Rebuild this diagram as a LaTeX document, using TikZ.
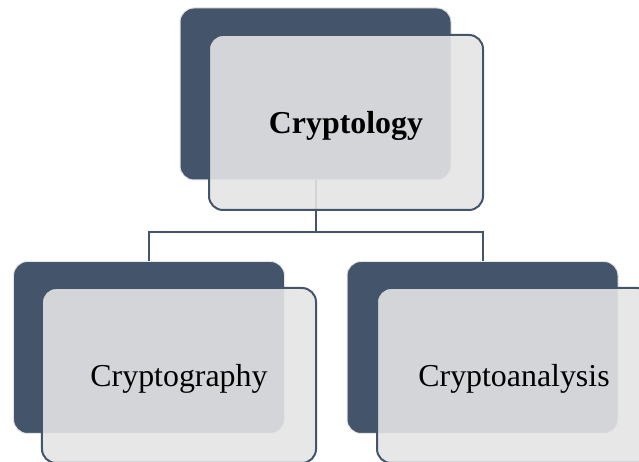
\documentclass[tikz,border=0pt]{standalone}
\usepackage{fontspec}
\setmainfont{Liberation Serif}
\definecolor{slate}{HTML}{44546A}
\definecolor{paper}{HTML}{E4E4E4}

\begin{document}
\begin{tikzpicture}[x=1bp,y=1bp,
	backbox/.style={draw=black!10, line width=1bp, fill=slate, rounded corners=14bp,
		minimum width=271bp, minimum height=172bp, inner sep=0pt},
	frontbox/.style={draw=slate, line width=2bp, fill=paper, fill opacity=0.9, text opacity=1,
		rounded corners=14bp, minimum width=274bp, minimum height=175bp, inner sep=0pt,
		text depth=0pt, font=\fontsize{32}{38}\selectfont},
	link/.style={draw=slate, line width=2bp}]
	 \useasboundingbox (0,0) rectangle (639,462);
	 %
	 % dunkle Hintergrundkarten
	 \node (cryptologyback) at (315.5,368) [backbox] {};
	 \node (cryptographyback) at (149,114.5) [backbox] {};
	 \node (cryptoanalysisback) at (482.5,114.5) [backbox] {};
	 %
	 % Cryptology - Cryptography
	 \draw[link] (cryptologyback.south) -- ++(0,-52) -| (cryptographyback.north);
	 %
	 % Cryptology - Cryptoanalysis
	 \draw[link] (cryptologyback.south) -- ++(0,-52) -| (cryptoanalysisback.north);
	 %
	 % helle Karten mit Text
	 \node (cryptology) at (346,339.5) [frontbox] {\textbf{Cryptology}};
	 \node (cryptography) at (179,86.5) [frontbox] {Cryptography};
	 \node (cryptoanalysis) at (514,86.5) [frontbox] {Cryptoanalysis};
\end{tikzpicture}
\end{document}
